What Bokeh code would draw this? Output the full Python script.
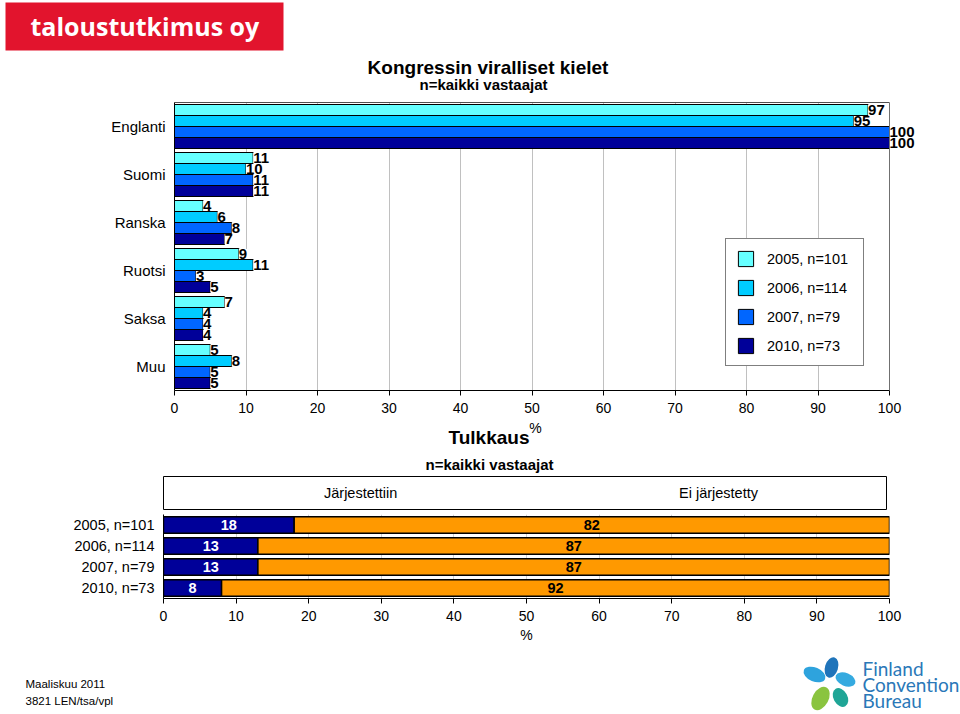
from bokeh.plotting import figure
from bokeh.models import (Range1d, ColumnDataSource, LabelSet, Label, Legend, LegendItem,
                          FixedTicker, LinearAxis, Span)
from bokeh.layouts import column
from bokeh.core.properties import value
from bokeh.embed import file_html
from bokeh.resources import INLINE

# ---------------- data ----------------
languages = ["Englanti", "Suomi", "Ranska", "Ruotsi", "Saksa", "Muu"]
series_labels = ["2005, n=101", "2006, n=114", "2007, n=79", "2010, n=73"]
lang_2005 = [97, 11, 4, 9, 7, 5]
lang_2006 = [95, 10, 6, 11, 4, 8]
lang_2007 = [100, 11, 8, 3, 4, 5]
lang_2010 = [100, 11, 7, 5, 4, 5]
x_ticks = [0, 10, 20, 30, 40, 50, 60, 70, 80, 90, 100]

interp_years = ["2005, n=101", "2006, n=114", "2007, n=79", "2010, n=73"]
interp_labels = ["Järjestettiin", "Ei järjestetty"]
arranged = [18, 13, 13, 8]
not_arranged = [82, 87, 87, 92]

# ---------------- style ----------------
FONT = "Liberation Sans"
SERIES_COLORS = ["#66FFFF", "#00CCFF", "#0066FF", "#000099"]
NAVY = "#000099"
ORANGE = "#FF9900"
RED = "#E2142D"
FCB_BLUE = "#2A78B8"
W = 960
PX = 7.15  # pixels per percent unit in the charts


def blank_fig(h, xr, yr, **kw):
    p = figure(width=W, height=h, x_range=xr, y_range=yr, output_backend="svg",
               toolbar_location=None, x_axis_location=None, y_axis_location=None,
               background_fill_color="white", border_fill_color="white",
               outline_line_color=None, frame_align=False, **kw)
    p.grid.visible = False
    return p


def text(p, x, y, s, size, bold=False, align="left", color="black", font=FONT):
    p.add_layout(Label(x=x, y=y, text=s, text_font=font, text_font_size=size,
                       text_font_style="bold" if bold else "normal", text_align=align,
                       text_baseline="middle", text_color=color))


# ---------------- header (pixel-like ranges) ----------------
hdr = blank_fig(100, Range1d(0, 960), Range1d(0, 100), min_border=0)
hdr.quad(left=[5], right=[283], bottom=[50], top=[98], fill_color=RED, line_color=None)
text(hdr, 30, 75, "taloustutkimus oy", "25px", bold=True, color="white", font="Open Sans")
text(hdr, 487.5, 33.5, "Kongressin viralliset kielet", "19px", bold=True, align="center")
text(hdr, 483, 16.5, "n=kaikki vastaajat", "15px", bold=True, align="center")

# ---------------- top chart ----------------
n = len(languages)
centers = [2 * (n - i) - 1 for i in range(n)]
bar_h = 2 * 11 / 48
offsets = [1.5, 0.5, -0.5, -1.5]
series = [lang_2005, lang_2006, lang_2007, lang_2010]

top = figure(width=W, height=320, x_range=Range1d(0, 100 + 41 / PX), y_range=Range1d(0, 2 * n),
             output_backend="svg", toolbar_location=None, frame_align=False,
             min_border_left=174, min_border_right=30, min_border_top=2, min_border_bottom=30,
             background_fill_color="white", border_fill_color="white",
             outline_line_color=None)

renderers = []
for k, vals in enumerate(series):
    ys = [c + offsets[k] * bar_h for c in centers]
    src = ColumnDataSource(dict(y=ys, v=vals, t=[str(v) for v in vals]))
    r = top.hbar(y="y", left=0, right="v", height=bar_h, source=src,
                 fill_color=SERIES_COLORS[k], line_color="black", line_width=1)
    renderers.append(r)
    top.add_layout(LabelSet(x="v", y="y", text="t", source=src, text_align="left",
                            text_baseline="middle", text_font=value(FONT),
                            text_font_style="bold", text_font_size="15px", text_color="black",
                            background_fill_color="white"))

top.xaxis.ticker = FixedTicker(ticks=x_ticks)
top.xaxis.bounds = (0, 100)
top.yaxis.ticker = FixedTicker(ticks=centers)
top.yaxis.major_label_overrides = {c: lab for c, lab in zip(centers, languages)}

for ax in top.axis:
    ax.axis_line_color = "black"
    ax.axis_line_width = 1
    ax.major_label_text_font = FONT
    ax.major_label_text_color = "black"
    ax.minor_tick_line_color = None
top.yaxis.major_tick_line_color = None
top.yaxis.major_tick_out = 0
top.yaxis.major_tick_in = 0
top.yaxis.major_label_standoff = 9
top.yaxis.major_label_text_font_size = "15px"
top.xaxis.major_tick_out = 5
top.xaxis.major_tick_in = 0
top.xaxis.major_tick_line_color = "black"
top.xaxis.major_label_standoff = 7
top.xaxis.major_label_text_font_size = "14px"
top.ygrid.visible = False
top.xgrid.grid_line_color = "#C0C0C0"
top.xgrid.grid_line_width = 1

# frame top edge (over 0..100 only) and right edge at 100
top_edge = LinearAxis(bounds=(0, 100), ticker=FixedTicker(ticks=[]),
                      axis_line_color="#505050", major_tick_line_color=None,
                      minor_tick_line_color=None, major_label_standoff=0)
top.add_layout(top_edge, "above")
top.add_layout(Span(location=100, dimension="height", line_color="#707070", line_width=1))

legend = Legend(items=[LegendItem(label=lab, renderers=[r]) for lab, r in zip(series_labels, renderers)],
                location=(551, 24), margin=0, padding=10, spacing=10,
                glyph_width=19, glyph_height=19, label_height=19, label_width=86,
                label_standoff=12,
                label_text_font=FONT, label_text_font_size="14.5px", label_text_color="black",
                border_line_color="black", border_line_width=1,
                background_fill_color="white", background_fill_alpha=1)
top.add_layout(legend)

# ---------------- "%" of first chart + second chart title ----------------
mid = blank_fig(53, Range1d(0, 960), Range1d(0, 53), min_border=0)
text(mid, 535, 46, "%", "14px", align="center")
text(mid, 488.5, 36, "Tulkkaus", "19px", bold=True, align="center")
text(mid, 489, 9.5, "n=kaikki vastaajat", "15px", bold=True, align="center")

# ---------------- legend strip for second chart ----------------
strip = figure(width=W, height=39, x_range=Range1d(0, 1), y_range=Range1d(0, 1),
               output_backend="svg", toolbar_location=None, frame_align=False,
               x_axis_location=None, y_axis_location=None,
               min_border_left=163, min_border_right=74, min_border_top=3, min_border_bottom=3,
               background_fill_color="white", border_fill_color="white",
               outline_line_color="black", outline_line_width=1)
strip.grid.visible = False
dummy_a = strip.hbar(y=[], left=[], right=[], height=1, fill_color=NAVY, line_color="black")
dummy_e = strip.hbar(y=[], left=[], right=[], height=1, fill_color=ORANGE, line_color="black")
for lab, r, xloc in [(interp_labels[0], dummy_a, 130), (interp_labels[1], dummy_e, 485)]:
    strip.add_layout(Legend(items=[LegendItem(label=lab, renderers=[r])], location=(xloc, 7),
                            margin=0, padding=0, glyph_width=19, glyph_height=19,
                            label_height=19, label_standoff=12,
                            label_text_font=FONT, label_text_font_size="14.5px",
                            label_text_color="black",
                            border_line_color=None, background_fill_alpha=0))

# ---------------- bottom chart ----------------
m = len(interp_years)
b_centers = [2 * (m - i) - 1 for i in range(m)]
b_h = 2 * 16.5 / 21
totals = [a + e for a, e in zip(arranged, not_arranged)]
bsrc = ColumnDataSource(dict(
    y=b_centers, a=arranged, tot=totals,
    a_mid=[a / 2 for a in arranged],
    e_mid=[a + e / 2 for a, e in zip(arranged, not_arranged)],
    a_t=[str(a) for a in arranged], e_t=[str(e) for e in not_arranged]))

bot = figure(width=W, height=142, x_range=Range1d(0, 100), y_range=Range1d(0, 2 * m),
             output_backend="svg", toolbar_location=None, frame_align=False,
             min_border_left=163, min_border_right=71, min_border_top=2, min_border_bottom=56,
             background_fill_color="white", border_fill_color="white",
             outline_line_color=None)
bot.hbar(y="y", left=0, right="a", height=b_h, source=bsrc,
         fill_color=NAVY, line_color="black", line_width=1.5)
bot.hbar(y="y", left="a", right="tot", height=b_h, source=bsrc,
         fill_color=ORANGE, line_color="black", line_width=1.5)
bot.add_layout(LabelSet(x="a_mid", y="y", text="a_t", source=bsrc, text_align="center",
                        text_baseline="middle", text_font=value(FONT), text_font_style="bold",
                        text_font_size="14.5px", text_color="white"))
bot.add_layout(LabelSet(x="e_mid", y="y", text="e_t", source=bsrc, text_align="center",
                        text_baseline="middle", text_font=value(FONT), text_font_style="bold",
                        text_font_size="14.5px", text_color="black"))

bot.xaxis.ticker = FixedTicker(ticks=x_ticks)
bot.xaxis.axis_label = "%"
bot.yaxis.ticker = FixedTicker(ticks=b_centers)
bot.yaxis.major_label_overrides = {c: lab for c, lab in zip(b_centers, interp_years)}
for ax in bot.axis:
    ax.axis_line_color = "black"
    ax.major_label_text_font = FONT
    ax.major_label_text_color = "black"
    ax.minor_tick_line_color = None
bot.yaxis.major_tick_line_color = None
bot.yaxis.major_tick_out = 0
bot.yaxis.major_tick_in = 0
bot.yaxis.major_label_standoff = 9
bot.yaxis.major_label_text_font_size = "14.5px"
bot.xaxis.major_tick_out = 5
bot.xaxis.major_tick_in = 0
bot.xaxis.major_label_standoff = 7
bot.xaxis.major_label_text_font_size = "14px"
bot.xaxis.axis_label_text_font = FONT
bot.xaxis.axis_label_text_font_size = "14px"
bot.xaxis.axis_label_text_font_style = "normal"
bot.xaxis.axis_label_text_color = "black"
bot.xaxis.axis_label_standoff = 3
bot.ygrid.visible = False
bot.xgrid.grid_line_color = "#D0D0D0"

# ---------------- footer (pixel-like ranges) ----------------
foot = blank_fig(60, Range1d(0, 960), Range1d(0, 60), min_border=0)
text(foot, 25, 31, "Maaliskuu 2011", "11.5px")
text(foot, 25, 14, "3821 LEN/tsa/vpl", "11.5px")
# Finland Convention Bureau logo (decoration)
foot.ellipse(x=[831, 814, 845, 820, 840], y=[47, 40, 35, 16, 17],
             width=[13, 23, 21, 16, 14], height=[21, 14, 13, 25, 20],
             angle=[-0.3, -0.4, -0.4, -0.5, 0.5],
             fill_color=["#1F74BA", "#2EA3DD", "#35AAE0", "#8AC43F", "#1FA596"],
             line_color=None)
for txt, yc in [("Finland", 46.5), ("Convention", 30.5), ("Bureau", 14)]:
    text(foot, 862, yc, txt, "19px", color=FCB_BLUE, font="Lato")

layout = column(hdr, top, mid, strip, bot, foot, spacing=0)
open("out.html", "w").write(file_html(layout, INLINE))
